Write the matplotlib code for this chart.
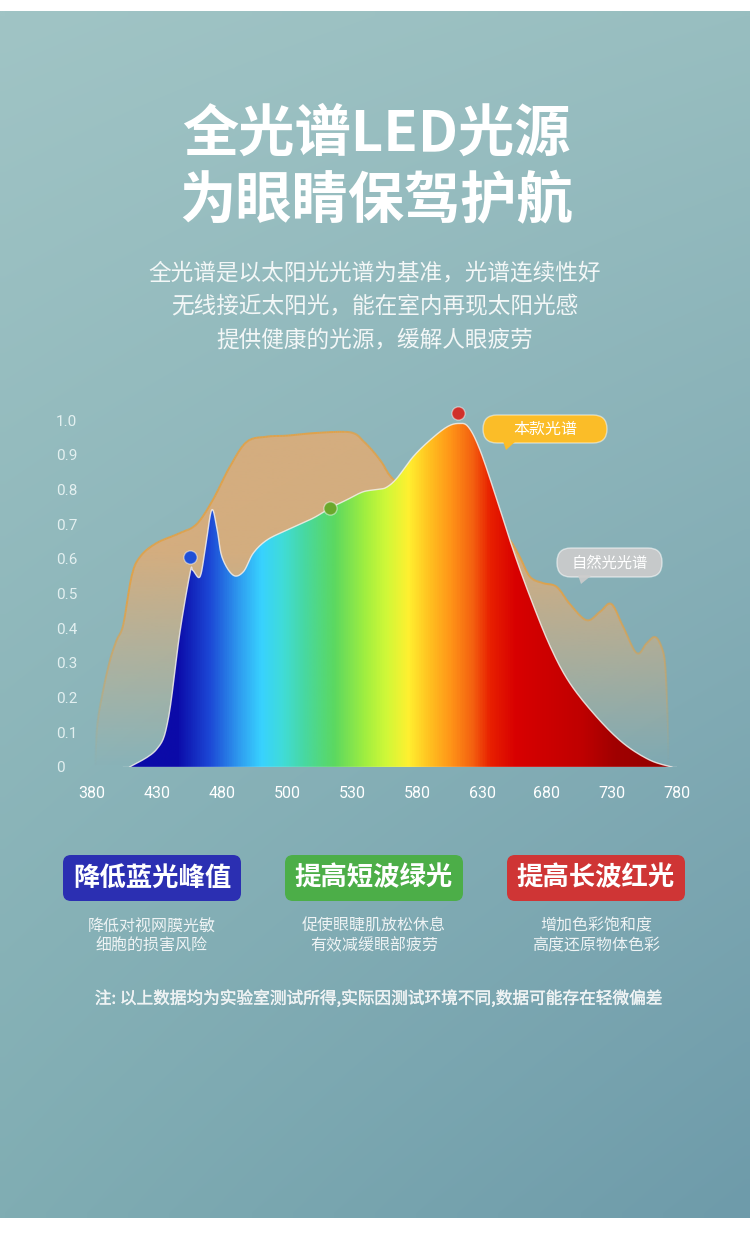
import numpy as np
import matplotlib
matplotlib.use('Agg')
import matplotlib.pyplot as plt
import matplotlib.patheffects as pe
from matplotlib.patches import Polygon, FancyBboxPatch
from matplotlib.collections import LineCollection
from matplotlib.colors import to_rgb, to_rgba, LinearSegmentedColormap

plt.rcParams['font.family'] = ['Noto Sans CJK SC', 'DejaVu Sans']

W, H = 750, 1233

# ---------------- data ----------------
tick_labels = ['380', '430', '480', '500', '530', '580', '630', '680', '730', '780']
y_ticks = [0, 0.1, 0.2, 0.3, 0.4, 0.5, 0.6, 0.7, 0.8, 0.9, 1.0]
y_labels = ['0', '0.1', '0.2', '0.3', '0.4', '0.5', '0.6', '0.7', '0.8', '0.9', '1.0']

# natural light spectrum (x in tick-position units)
natural_pos = [0.05, 0.08, 0.17, 0.28, 0.38, 0.48, 0.61, 0.74, 0.99, 1.35, 1.61, 1.86, 2.12,
               2.38, 2.69, 3.0, 3.4, 3.86, 4.05, 4.17, 4.3, 4.45, 4.63, 5.0, 5.5, 6.0,
               6.25, 6.43, 6.58, 6.74, 6.94, 7.15, 7.35, 7.61, 7.82, 7.99, 8.17, 8.38,
               8.53, 8.66, 8.76, 8.82, 8.86, 8.87]
natural_val = [0.0, 0.12, 0.22, 0.31, 0.366, 0.41, 0.55, 0.606, 0.645, 0.674, 0.70, 0.77, 0.865,
               0.937, 0.952, 0.955, 0.962, 0.966, 0.96, 0.94, 0.915, 0.88, 0.83, 0.78, 0.74,
               0.71, 0.69, 0.654, 0.606, 0.548, 0.53, 0.519, 0.47, 0.423, 0.448, 0.47, 0.405,
               0.328, 0.356, 0.375, 0.347, 0.29, 0.12, 0.0]

# this product's LED spectrum
led_pos = [0.58, 0.99, 1.17, 1.35, 1.51, 1.55, 1.66, 1.74, 1.84, 1.92, 2.0, 2.17, 2.33,
           2.48, 2.69, 3.0, 3.4, 3.66, 3.92, 4.17, 4.4, 4.53, 4.69, 4.94, 5.2, 5.46, 5.64,
           5.79, 5.97, 6.23, 6.48, 6.74, 7.05, 7.35, 7.76, 8.17, 8.58, 8.92]
led_val = [0.0, 0.05, 0.135, 0.385, 0.56, 0.567, 0.548, 0.625, 0.74, 0.69, 0.605, 0.553,
           0.563, 0.616, 0.654, 0.683, 0.717, 0.746, 0.77, 0.793, 0.80, 0.806, 0.832, 0.894,
           0.942, 0.98, 0.99, 0.98, 0.913, 0.77, 0.625, 0.49, 0.347, 0.242, 0.145, 0.069,
           0.02, 0.0]

# highlighted points
dot_pos = [1.51, 3.66, 5.63]
dot_val = [0.605, 0.746, 1.02]
dot_colors = ['#1f4fd6', '#6aa82c', '#d0302a']

# rainbow colour stops (position, colour)
rainbow_pos = [0.0, 1.3, 1.8, 2.27, 2.6, 2.93, 3.27, 3.73, 4.2, 4.53, 4.87, 5.2, 5.53,
               5.87, 6.13, 6.53, 7.53, 8.07, 9.0]
rainbow_col = ['#0b0aa8', '#0b0aa8', '#1c48d6', '#2f9ef0', '#38d2ff', '#40dcd8', '#48d8a0',
               '#5cd860', '#a0ee40', '#d0f838', '#fff030', '#ffc020', '#ff9418', '#f46010',
               '#e82000', '#d80000', '#c00000', '#a00000', '#920000']

legend_labels = ['本款光谱', '自然光光谱']

title_lines = ['全光谱LED光源', '为眼睛保驾护航']
subtitle_lines = ['全光谱是以太阳光光谱为基准，光谱连续性好',
                  '无线接近太阳光，能在室内再现太阳光感',
                  '提供健康的光源，缓解人眼疲劳']
feature_titles = ['降低蓝光峰值', '提高短波绿光', '提高长波红光']
feature_colors = ['#2b2fb2', '#4cae48', '#cf3535']
feature_desc = [['降低对视网膜光敏', '细胞的损害风险'],
                ['促使眼睫肌放松休息', '有效减缓眼部疲劳'],
                ['增加色彩饱和度', '高度还原物体色彩']]
footnote = '注: 以上数据均为实验室测试所得,实际因测试环境不同,数据可能存在轻微偏差'


def smooth(xs, ys, n=14):
    P = np.column_stack([xs, ys]).astype(float)
    P = np.vstack([P[0], P, P[-1]])
    out = []
    t = np.linspace(0, 1, n, endpoint=False)[:, None]
    for i in range(1, len(P) - 2):
        p0, p1, p2, p3 = P[i - 1], P[i], P[i + 1], P[i + 2]
        seg = 0.5 * ((2 * p1) + (-p0 + p2) * t + (2 * p0 - 5 * p1 + 4 * p2 - p3) * t ** 2
                     + (-p0 + 3 * p1 - 3 * p2 + p3) * t ** 3)
        out.append(seg)
    out.append(P[-2][None, :])
    S = np.vstack(out)
    S[:, 1] = np.clip(S[:, 1], 0, None)
    return S


fig = plt.figure(figsize=(W / 100, H / 100), dpi=100, facecolor='white')

# ---------------- background ----------------
bg = fig.add_axes([0, 0, 1, 1], zorder=0)
bg.set_xlim(0, W)
bg.set_ylim(H, 0)
bg.axis('off')
tl, tr = np.array(to_rgb('#a0c4c5')), np.array(to_rgb('#98bec0'))
bl, br = np.array(to_rgb('#80adb3')), np.array(to_rgb('#6e9baa'))
gy, gx = np.mgrid[0:1:120j, 0:1:80j]
img = ((1 - gy)[..., None] * ((1 - gx)[..., None] * tl + gx[..., None] * tr)
       + gy[..., None] * ((1 - gx)[..., None] * bl + gx[..., None] * br))
bg.imshow(img, extent=[0, W, 1218, 11], aspect='auto', interpolation='bilinear', zorder=0)

# ---------------- chart ----------------
ax = fig.add_axes([92 / W, 1 - 767 / H, 585 / W, 347 / H], zorder=2)
ax.set_facecolor('none')
for s in ax.spines.values():
    s.set_visible(False)

# natural light area
N = smooth(natural_pos, natural_val)
nat_poly = Polygon(np.vstack([N, [[N[-1, 0], 0], [N[0, 0], 0]]]), closed=True,
                   transform=ax.transData, facecolor='none', edgecolor='none')
ax.add_patch(nat_poly)
rows = 300
vv = np.linspace(1, 0, rows)
tan = np.zeros((rows, 1, 4))
tan[:, 0, :3] = to_rgb('#d8ad7c')
tan[:, 0, 3] = np.clip(vv / 0.62, 0, 1) ** 1.1 * 0.95
im1 = ax.imshow(tan, extent=[0, 9, 0, 1], aspect='auto', zorder=1, interpolation='bilinear')
im1.set_clip_path(nat_poly)

segs = np.stack([N[:-1], N[1:]], axis=1)
seg_alpha = np.clip((segs[:, :, 1].mean(axis=1)) / 0.5, 0, 1) ** 1.2
oc = np.array(to_rgba('#e0a24a'))
cols = np.tile(oc, (len(segs), 1))
cols[:, 3] = seg_alpha
ax.add_collection(LineCollection(segs, colors=cols, linewidths=1.4, zorder=2))

# LED rainbow area
L = smooth(led_pos, led_val)
led_poly = Polygon(np.vstack([L, [[L[-1, 0], 0], [L[0, 0], 0]]]), closed=True,
                   transform=ax.transData, facecolor='none', edgecolor='none')
ax.add_patch(led_poly)
cmap = LinearSegmentedColormap.from_list('rb', list(zip(np.array(rainbow_pos) / 9.0, rainbow_col)))
grad = np.linspace(0, 1, 900)[None, :]
im2 = ax.imshow(grad, extent=[0, 9, 0, 1], aspect='auto', cmap=cmap, zorder=3,
                interpolation='bilinear')
im2.set_clip_path(led_poly)
ax.plot(L[:, 0], L[:, 1], color='#f4f0ec', lw=1.0, alpha=0.85, zorder=4)
ax.plot([L[0, 0] - 0.1, L[-1, 0] + 0.1], [0, 0], color='#e8eef0', lw=1.0, alpha=0.7, zorder=4)

for p, v, c in zip(dot_pos, dot_val, dot_colors):
    ax.plot([p], [v], 'o', ms=9.5, mfc=c, mec=(1, 1, 1, 0.45), mew=1.0, zorder=6, clip_on=False)

ax.set_xlim(0, 9)
ax.set_ylim(0, 1)
ax.set_xticks(range(len(tick_labels)))
ax.set_xticklabels(tick_labels, family=['Roboto', 'DejaVu Sans'], fontsize=11.5, color='white')
ax.tick_params(axis='x', length=0, pad=14)
ax.set_yticks(y_ticks)
ax.set_yticklabels(y_labels, family=['Roboto', 'DejaVu Sans'], fontsize=11, weight='normal',
                   color=(0.95, 0.98, 0.98, 0.85), ha='left')
ax.tick_params(axis='y', length=0, pad=26)

# ---------------- overlay (text & decorations) ----------------
ov = fig.add_axes([0, 0, 1, 1], zorder=5)
ov.set_xlim(0, W)
ov.set_ylim(H, 0)
ov.axis('off')
ov.patch.set_alpha(0)

ov.text(376, 134, title_lines[0], ha='center', va='center', fontsize=40.5, weight='bold', color='white')
ov.text(376, 202, title_lines[1], ha='center', va='center', fontsize=40.5, weight='bold', color='white')
for i, line in enumerate(subtitle_lines):
    ov.text(375, 273 + 33.5 * i, line, ha='center', va='center', fontsize=16.3, color='#f3f7f7')

# legend bubbles
ov.add_patch(FancyBboxPatch((483, 415), 124, 28, boxstyle='round,pad=0,rounding_size=14',
                            facecolor='#fbbd28', edgecolor=(1, 1, 1, 0.5), lw=1, zorder=3))
ov.add_patch(Polygon([[503, 441], [516, 441], [506, 450]], closed=True, facecolor='#fbbd28',
                     edgecolor='none', zorder=4))
ov.text(545, 429.5, legend_labels[0], ha='center', va='center', fontsize=11.5, color='white', zorder=5)

ov.add_patch(FancyBboxPatch((557, 548), 105, 29, boxstyle='round,pad=0,rounding_size=14',
                            facecolor=(0.80, 0.80, 0.80, 0.92), edgecolor=(1, 1, 1, 0.55), lw=1, zorder=3))
ov.add_patch(Polygon([[578, 575], [592, 575], [581, 584]], closed=True,
                     facecolor=(0.80, 0.80, 0.80, 0.92), edgecolor='none', zorder=4))
ov.text(609.5, 563, legend_labels[1], ha='center', va='center', fontsize=11, color='white', zorder=5)

# feature boxes
centers = [152, 374, 596]
for cx, t, c, d in zip(centers, feature_titles, feature_colors, feature_desc):
    ov.add_patch(FancyBboxPatch((cx - 89, 855), 178, 46, boxstyle='round,pad=0,rounding_size=8',
                                facecolor=c, edgecolor='none', zorder=3))
    ov.text(cx, 878, t, ha='center', va='center', fontsize=19, weight='bold', color='white', zorder=4)
    ov.text(cx, 926, d[0], ha='center', va='center', fontsize=11.5, color='#eef3f4', zorder=4)
    ov.text(cx, 946, d[1], ha='center', va='center', fontsize=11.5, color='#eef3f4', zorder=4)

ov.text(378, 999, footnote, ha='center', va='center', fontsize=12, weight='normal',
        color='#f0f4f5', zorder=4,
        path_effects=[pe.withStroke(linewidth=0.25, foreground='#f0f4f5')])

fig.savefig('out.png', dpi=100, facecolor='white')
